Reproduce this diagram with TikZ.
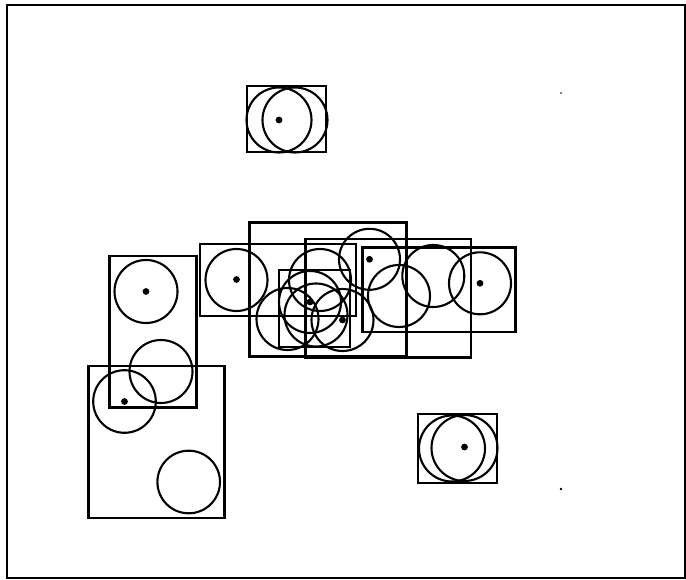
\documentclass[tikz,border=0pt]{standalone}
\tikzset{
	bbox/.style={draw=black, line width=1.3pt},
	ring/.style={draw=black, line width=1.2pt},
	ctr/.style={fill=black}
}
\begin{document}
\begin{tikzpicture}[x=0.02cm, y=-0.02cm]
	\useasboundingbox (0,0) rectangle (686,580);
	\draw[bbox] (7,5) rectangle (685,578);
	\foreach \xa/\ya/\xb/\yb in {247/86/326/152, 418/414/497/483, 109.5/256/196.5/407.5,
		88.5/366/224.5/518, 200/244/356/316, 249.5/222.5/406.5/356.5,
		305.5/239/471/357.5, 279/270/350/347, 362.5/247.5/515.5/332}
		\draw[bbox] (\xa,\ya) rectangle (\xb,\yb);
	\foreach \cx/\cy/\r in {279/120/32.5, 295/120/32.5, 452/448.5/33, 464.5/448/33,
		146/291.5/31.5, 161/371.5/31.5, 124.5/401.5/31.3, 188.7/482/31.3,
		236.5/280/31, 320/280/31, 287.5/319/31, 310/302/31, 316/315/31.5,
		342.5/320/31, 369.5/259.3/30.5, 399/296/31, 433.3/276/31, 480/283.3/31}
		\draw[ring] (\cx,\cy) circle[radius=\r];
	\foreach \cx/\cy in {279/120, 464.5/447, 146/291.5, 124.5/401.5, 236.5/279.5,
		369.5/259.3, 480/283.3, 310/302, 342.5/320}
		\fill[ctr] (\cx,\cy) circle[radius=3.4];
	\fill[ctr] (561,93) circle[radius=0.8];
	\fill[ctr] (561,489) circle[radius=1.3];
\end{tikzpicture}
\end{document}
